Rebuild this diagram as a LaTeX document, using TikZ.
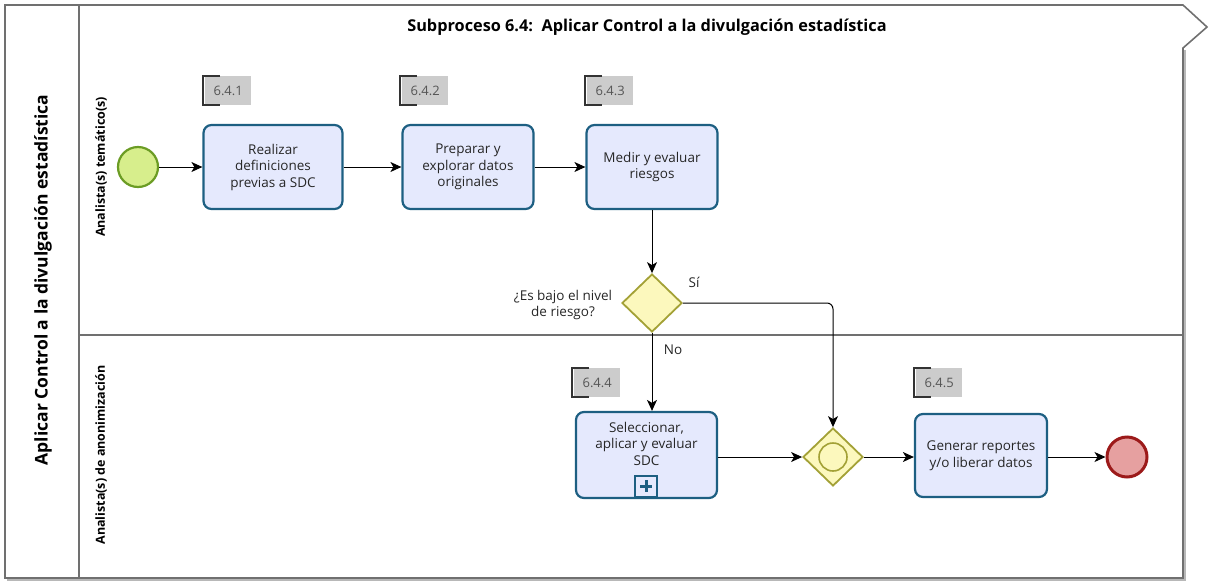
\documentclass[tikz,border=0pt]{standalone}
\usepackage{fontspec}
\setmainfont{Open Sans}
\usetikzlibrary{arrows.meta,shapes.geometric,positioning}
\definecolor{frame}{HTML}{707070}
\definecolor{taskb}{HTML}{1D5F82}
\definecolor{taskf}{HTML}{E5E9FD}
\definecolor{startf}{HTML}{D7EE8C}
\definecolor{startb}{HTML}{6B9C24}
\definecolor{gwf}{HTML}{FCF8BD}
\definecolor{gwb}{HTML}{A3A136}
\definecolor{endf}{HTML}{E6A0A0}
\definecolor{endb}{HTML}{9C1A1A}
\definecolor{tagf}{HTML}{CCCCCC}
\definecolor{tagt}{HTML}{555555}
\tikzset{
  task/.style={draw=taskb, fill=taskf, line width=2.2pt, rounded corners=8pt,
    minimum width=#1, minimum height=84pt, align=center, inner sep=2pt,
    font=\fontsize{13.5}{16.5}\selectfont, text=black!85},
  tagbox/.style={fill=tagf, minimum width=46pt, minimum height=29pt, inner sep=0pt,
    font=\fontsize{13}{15}\selectfont, text=tagt},
  gw/.style={diamond, draw=gwb, fill=gwf, line width=1.8pt, minimum width=60pt, minimum height=58pt, inner sep=0pt},
  flow/.style={-{Stealth[length=11pt,width=10pt,inset=3pt]}, line width=1pt, black},
  lbl/.style={font=\fontsize{13.5}{16.5}\selectfont, text=black!85, inner sep=0pt},
  lanelbl/.style={font=\bfseries\fontsize{12.5}{14}\selectfont, rotate=90, inner sep=0pt}
}
\begin{document}
\begin{tikzpicture}[x=1pt,y=-1pt]
\useasboundingbox (0,0) rectangle (1211,587);
% frame
\draw[frame!50, line width=1.5pt] (7,580) -- (1185,580) -- (1185,50);
\draw[frame, line width=1.6pt] (5,5) -- (1183,5) -- (1207,27) -- (1183,48) -- (1183,578) -- (5,578) -- cycle;
\draw[frame, line width=1.2pt] (79,5) -- (79,578);
\draw[frame, line width=1.2pt] (79,335) -- (1183,335);
% titles
\node[font=\bfseries\fontsize{16.3}{19}\selectfont, inner sep=0pt] (title) at (647,27) {Subproceso 6.4:\ \ Aplicar Control a la divulgación estadística};
\node[font=\bfseries\fontsize{17.5}{20}\selectfont, rotate=90, inner sep=0pt] (pool) at (43,280) {Aplicar Control a la divulgación estadística};
\node[lanelbl] (lane1) at (101,167) {Analista(s) temático(s)};
\node[lanelbl] (lane2) at (101,455) {Analista(s) de anonimización};
% events
\node[circle, draw=startb, fill=startf, line width=2.2pt, minimum size=40pt, inner sep=0pt] (start) at (138,167) {};
\node[circle, draw=endb, fill=endf, line width=3pt, minimum size=40pt, inner sep=0pt] (end) at (1127,457) {};
% tasks
\node[task=139pt] (t1) at (273,167) {Realizar\\definiciones\\previas a SDC};
\node[task=131pt] (t2) at (468,167) {Preparar y\\explorar datos\\originales};
\node[task=131pt] (t3) at (652,167) {Medir y evaluar\\riesgos};
\node[task=141pt, minimum height=86pt] (t4) at (646.5,455) {Seleccionar,\\aplicar y evaluar\\SDC\\[6pt]};
\node[task=132pt, minimum height=83pt] (t5) at (981,455.5) {Generar reportes\\y/o liberar datos};
% subprocess marker
\node[draw=taskb, fill=taskf, line width=1.6pt, minimum width=22pt, minimum height=21pt, inner sep=0pt, anchor=south] (plus) at (646,497.5) {};
\draw[taskb, line width=3pt] (plus.center) ++(-6,0) -- ++(12,0);
\draw[taskb, line width=3pt] (plus.center) ++(0,-6) -- ++(0,12);
% tags
\foreach \n/\x/\y in {6.4.1/205/76, 6.4.2/402/76, 6.4.3/587/76, 6.4.4/574/368, 6.4.5/916/368}{
  \node[tagbox, anchor=north west] (tag\n) at (\x,\y) {\n};
  \draw[black!80, line width=1.2pt] (\x+15,\y) -- (\x-2,\y) -- (\x-2,\y+29) -- (\x+15,\y+29);
}
% gateways
\node[gw] (g1) at (652,303) {};
\node[gw] (g2) at (833,457) {};
\node[circle, draw=gwb, line width=1.6pt, minimum size=28pt, inner sep=0pt] (g2c) at (g2) {};
% labels
\node[lbl, align=center] (q) at (563,305) {¿Es bajo el nivel\\de riesgo?};
\node[lbl] (si) at (694,282) {Sí};
\node[lbl] (no) at (673,350) {No};
% flows
\draw[flow] (start) -- (t1);
\draw[flow] (t1) -- (t2);
\draw[flow] (t2) -- (t3);
\draw[flow] (t3) -- (g1);
\draw[flow] (g1.south) -- (t4.north -| g1.south);
\draw[flow, rounded corners=6pt] (g1.east) -- (g1.east -| g2.north) -- (g2.north);
\draw[flow] (t4.east |- g2) -- (g2.west);
\draw[flow] (g2.east) -- (t5.west |- g2);
\draw[flow] (t5.east |- end) -- (end);
\end{tikzpicture}
\end{document}
